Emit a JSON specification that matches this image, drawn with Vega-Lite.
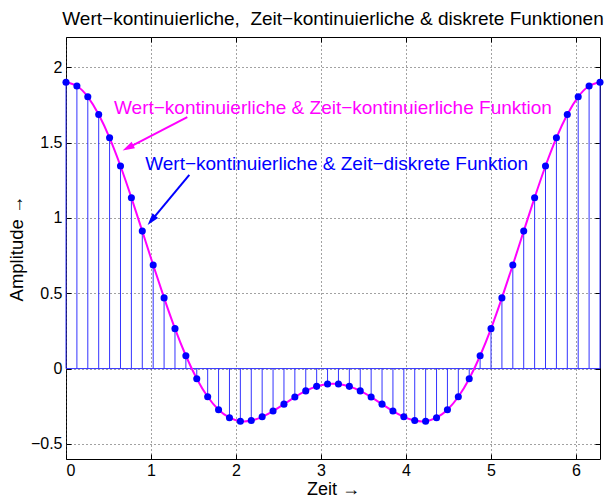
{
  "$schema": "https://vega.github.io/schema/vega-lite/v6.json",
  "width": 534,
  "height": 422,
  "autosize": "none",
  "padding": {"left": 66, "top": 37, "right": 7, "bottom": 40},
  "background": "white",
  "config": {
    "font": "Liberation Sans",
    "view": {"stroke": "black", "strokeWidth": 1},
    "axis": {
      "domain": false,
      "grid": true,
      "gridDash": [1, 3],
      "gridColor": "#444444",
      "gridOpacity": 1,
      "gridWidth": 1,
      "tickColor": "black",
      "tickSize": -5,
      "tickWidth": 1,
      "labelFont": "Liberation Sans",
      "labelFontSize": 16,
      "labelColor": "black",
      "titleFont": "Liberation Sans",
      "titleFontSize": 18.5,
      "titleFontWeight": "normal",
      "titleColor": "black"
    }
  },
  "title": {
    "text": "Wert−kontinuierliche,\u00a0 Zeit−kontinuierliche & diskrete Funktionen",
    "font": "Liberation Sans",
    "fontSize": 19,
    "fontWeight": "normal",
    "color": "black",
    "anchor": "middle",
    "offset": 8
  },
  "datasets": {
    "pts": [
      {"t": 0.0, "v": 1.900}, {"t": 0.1282, "v": 1.875}, {"t": 0.2565, "v": 1.803}, {"t": 0.3847, "v": 1.686},
      {"t": 0.5129, "v": 1.531}, {"t": 0.6411, "v": 1.344}, {"t": 0.7694, "v": 1.134}, {"t": 0.8976, "v": 0.912},
      {"t": 1.0258, "v": 0.687}, {"t": 1.1541, "v": 0.469}, {"t": 1.2823, "v": 0.265}, {"t": 1.4105, "v": 0.085},
      {"t": 1.5387, "v": -0.067}, {"t": 1.6670, "v": -0.187}, {"t": 1.7952, "v": -0.273}, {"t": 1.9234, "v": -0.326},
      {"t": 2.0517, "v": -0.349}, {"t": 2.1799, "v": -0.345}, {"t": 2.3081, "v": -0.320}, {"t": 2.4363, "v": -0.282},
      {"t": 2.5646, "v": -0.236}, {"t": 2.6928, "v": -0.189}, {"t": 2.8210, "v": -0.148}, {"t": 2.9493, "v": -0.118},
      {"t": 3.0775, "v": -0.102}, {"t": 3.2057, "v": -0.102}, {"t": 3.3339, "v": -0.118}, {"t": 3.4622, "v": -0.148},
      {"t": 3.5904, "v": -0.189}, {"t": 3.7186, "v": -0.236}, {"t": 3.8468, "v": -0.282}, {"t": 3.9751, "v": -0.320},
      {"t": 4.1033, "v": -0.345}, {"t": 4.2315, "v": -0.349}, {"t": 4.3598, "v": -0.326}, {"t": 4.4880, "v": -0.273},
      {"t": 4.6162, "v": -0.187}, {"t": 4.7444, "v": -0.067}, {"t": 4.8727, "v": 0.085}, {"t": 5.0009, "v": 0.265},
      {"t": 5.1291, "v": 0.469}, {"t": 5.2574, "v": 0.687}, {"t": 5.3856, "v": 0.912}, {"t": 5.5138, "v": 1.134},
      {"t": 5.6420, "v": 1.344}, {"t": 5.7703, "v": 1.531}, {"t": 5.8985, "v": 1.686}, {"t": 6.0267, "v": 1.803},
      {"t": 6.1550, "v": 1.875}, {"t": 6.2832, "v": 1.900}
    ],
    "arrows": [
      {"x": 1.427, "y": 1.668, "x2": 0.729, "y2": 1.465, "ang": 242.7, "color": "#ff00ff"},
      {"x": 1.451, "y": 1.285, "x2": 1.006, "y2": 0.984, "ang": 219.8, "color": "#0000ff"}
    ],
    "labels": [
      {"x": 3.141, "y": 1.732, "label": "Wert−kontinuierliche & Zeit−kontinuierliche Funktion", "color": "#ff00ff"},
      {"x": 3.185, "y": 1.358, "label": "Wert−kontinuierliche & Zeit−diskrete Funktion", "color": "#0000ff"}
    ]
  },
  "resolve": {"axis": {"x": "independent", "y": "independent"}},
  "layer": [
    {
      "data": {"name": "pts"},
      "mark": {"type": "rule", "color": "#3333ff", "strokeWidth": 1},
      "encoding": {
        "x": {
          "field": "t", "type": "quantitative",
          "scale": {"domain": [0, 6.2832], "nice": false, "zero": false},
          "axis": {"orient": "bottom", "values": [0, 1, 2, 3, 4, 5, 6], "format": "d", "title": "Zeit →", "titleFontSize": 18, "labelPadding": 8, "titlePadding": 2}
        },
        "y": {
          "field": "v", "type": "quantitative",
          "scale": {"domain": [-0.6, 2.2], "nice": false, "zero": false},
          "axis": {"orient": "left", "values": [-0.5, 0, 0.5, 1, 1.5, 2], "format": "~g", "title": "Amplitude →", "labelPadding": 9, "titlePadding": 4}
        },
        "y2": {"datum": 0}
      }
    },
    {
      "data": {"values": [{"a": 0, "b": 6.2832, "z": 0}]},
      "mark": {"type": "rule", "color": "#3333ff", "strokeWidth": 1},
      "encoding": {
        "x": {"field": "a", "type": "quantitative", "axis": {"orient": "top", "values": [0, 1, 2, 3, 4, 5, 6], "labels": false, "grid": false, "title": null}},
        "x2": {"field": "b"},
        "y": {"field": "z", "type": "quantitative", "axis": {"orient": "right", "values": [-0.5, 0, 0.5, 1, 1.5, 2], "labels": false, "grid": false, "title": null}}
      }
    },
    {
      "data": {"name": "pts"},
      "mark": {"type": "line", "color": "#ff00ff", "strokeWidth": 2, "interpolate": "natural"},
      "encoding": {
        "x": {"field": "t", "type": "quantitative", "axis": null},
        "y": {"field": "v", "type": "quantitative", "axis": null}
      }
    },
    {
      "data": {"name": "pts"},
      "mark": {"type": "point", "filled": true, "color": "#0000ff", "opacity": 1, "size": 50},
      "encoding": {
        "x": {"field": "t", "type": "quantitative", "axis": null},
        "y": {"field": "v", "type": "quantitative", "axis": null}
      }
    },
    {
      "data": {"name": "arrows"},
      "mark": {"type": "rule", "strokeWidth": 2},
      "encoding": {
        "x": {"field": "x", "type": "quantitative", "axis": null},
        "y": {"field": "y", "type": "quantitative", "axis": null},
        "x2": {"field": "x2"},
        "y2": {"field": "y2"},
        "color": {"field": "color", "type": "nominal", "scale": null}
      }
    },
    {
      "data": {"name": "arrows"},
      "mark": {"type": "point", "filled": true, "opacity": 1, "size": 144, "shape": "M0,-1L0.6,1L-0.6,1Z"},
      "encoding": {
        "x": {"field": "x2", "type": "quantitative", "axis": null},
        "y": {"field": "y2", "type": "quantitative", "axis": null},
        "angle": {"field": "ang", "type": "quantitative", "scale": null},
        "color": {"field": "color", "type": "nominal", "scale": null}
      }
    },
    {
      "data": {"name": "labels"},
      "mark": {"type": "text", "font": "Liberation Sans", "fontSize": 19, "align": "center", "baseline": "middle"},
      "encoding": {
        "x": {"field": "x", "type": "quantitative", "axis": null},
        "y": {"field": "y", "type": "quantitative", "axis": null},
        "text": {"field": "label"},
        "color": {"field": "color", "type": "nominal", "scale": null}
      }
    }
  ]
}
